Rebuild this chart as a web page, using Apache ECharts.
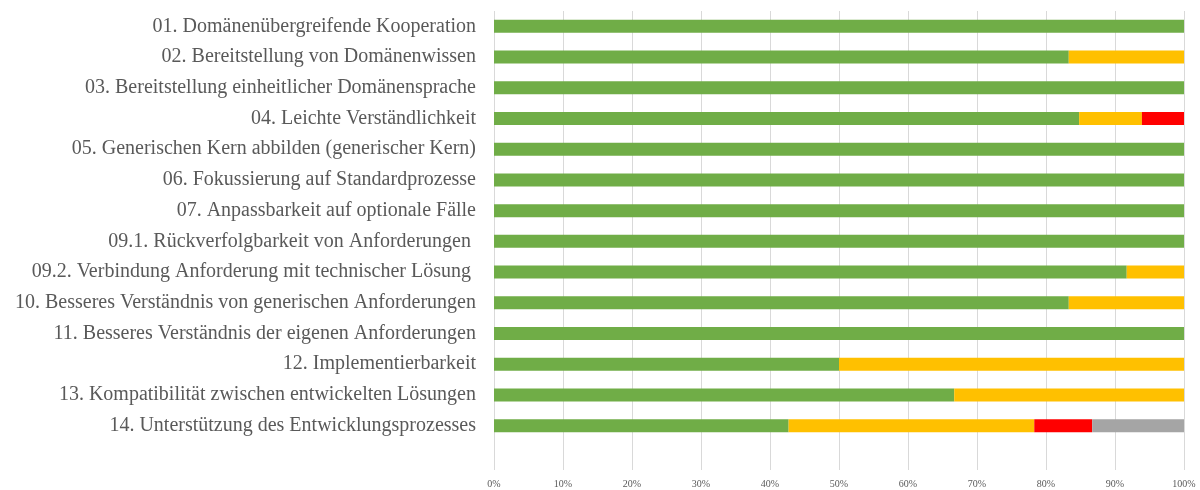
<!DOCTYPE html>
<html>
<head>
<meta charset="utf-8">
<script src="https://cdn.jsdelivr.net/npm/echarts@6/dist/echarts.min.js"></script>
<style>
  html, body { margin: 0; padding: 0; background: #ffffff; }
  #chart { width: 1200px; height: 490px; }
</style>
</head>
<body>
<div id="chart"></div>
<script>
// Anforderungen (top to bottom)
const categories = [
  '01. Domänenübergreifende Kooperation',
  '02. Bereitstellung von Domänenwissen',
  '03. Bereitstellung einheitlicher Domänensprache',
  '04. Leichte Verständlichkeit',
  '05. Generischen Kern abbilden (generischer Kern)',
  '06. Fokussierung auf Standardprozesse',
  '07. Anpassbarkeit auf optionale Fälle',
  '09.1. Rückverfolgbarkeit von Anforderungen ',
  '09.2. Verbindung Anforderung mit technischer Lösung ',
  '10. Besseres Verständnis von generischen Anforderungen',
  '11. Besseres Verständnis der eigenen Anforderungen',
  '12. Implementierbarkeit',
  '13. Kompatibilität zwischen entwickelten Lösungen',
  '14. Unterstützung des Entwicklungsprozesses'
];

// Anteile in Prozent je Bewertung
const greenValues  = [100, 83.3, 100, 84.8, 100, 100, 100, 100, 91.7, 83.3, 100, 50, 66.7, 42.7];
const yellowValues = [0, 16.7, 0, 9.1, 0, 0, 0, 0, 8.3, 16.7, 0, 50, 33.3, 35.6];
const redValues    = [0, 0, 0, 6.1, 0, 0, 0, 0, 0, 0, 0, 0, 0, 8.4];
const greyValues   = [0, 0, 0, 0, 0, 0, 0, 0, 0, 0, 0, 0, 0, 13.3];

const xTicks = [0, 10, 20, 30, 40, 50, 60, 70, 80, 90, 100];

const colors = ['#70AD47', '#FFC000', '#FF0000', '#A5A5A5'];
const seriesData = [greenValues, yellowValues, redValues, greyValues];
const seriesNames = ['Positiv', 'Neutral', 'Negativ', 'Keine Angabe'];

const chart = echarts.init(document.getElementById('chart'));

chart.setOption({
  animation: false,
  backgroundColor: '#ffffff',
  grid: { left: 494, right: 16, top: 11, height: 430, containLabel: false },
  xAxis: {
    type: 'value',
    min: 0,
    max: 100,
    interval: 10,
    axisLine: { show: false },
    axisTick: { show: true, length: 29, lineStyle: { color: '#D9D9D9', width: 1 } },
    splitLine: { show: true, lineStyle: { color: '#D9D9D9', width: 1 } },
    axisLabel: {
      margin: 38,
      color: '#595959',
      fontFamily: 'Liberation Serif, Times New Roman, serif',
      fontSize: 10
    , formatter: v => (xTicks.includes(v) ? v + '%' : '')
    }
  },
  yAxis: {
    type: 'category',
    data: categories,
    inverse: true,
    axisLine: { show: false },
    axisTick: { show: false },
    splitLine: { show: false },
    axisLabel: {
      margin: 18,
      color: '#595959',
      fontFamily: 'Liberation Serif, Times New Roman, serif',
      fontSize: 20
    }
  },
  series: seriesData.map((d, i) => ({
    name: seriesNames[i],
    type: 'bar',
    stack: 'total',
    barWidth: 13,
    itemStyle: { color: colors[i] },
    data: d
  }))
});
</script>
</body>
</html>
